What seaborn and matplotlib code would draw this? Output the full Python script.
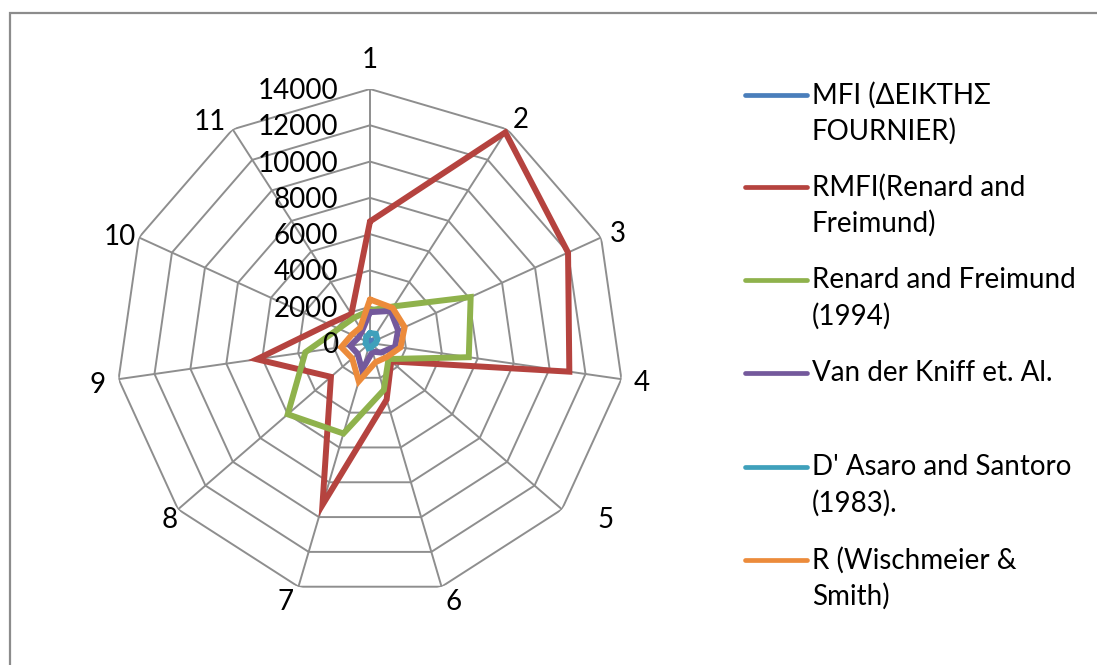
import numpy as np
import pandas as pd
import matplotlib
matplotlib.use("Agg")
import matplotlib.pyplot as plt
from matplotlib.lines import Line2D
from matplotlib.patches import Rectangle
import seaborn as sns

# Stations / months on the radar axes
categories = ["1", "2", "3", "4", "5", "6", "7", "8", "9", "10", "11"]

# Erosivity indices per axis
mfi = [130, 150, 120, 100, 70, 60, 90, 70, 80, 70, 100]
rmfi = [6700, 13800, 12000, 11100, 1550, 3250, 9300, 2850, 6300, 2500, 1900]
renard_1994 = [1800, 2400, 6100, 5500, 1350, 2700, 5200, 6000, 3600, 1900, 1650]
van_der_kniff = [1700, 2100, 1700, 1400, 800, 500, 1550, 900, 1100, 700, 800]
dasaro = [550, 600, 450, 300, 200, 250, 300, 200, 250, 250, 400]
r_wischmeier = [2400, 2300, 2100, 1700, 1200, 1100, 2200, 1300, 1600, 1100, 1000]

series_names = [
    "MFI (ΔΕΙΚΤΗΣ\nFOURNIER)",
    "RMFI(Renard and\nFreimund)",
    "Renard and Freimund\n(1994)",
    "Van der Kniff et. Al.",
    "D' Asaro and Santoro\n(1983).",
    "R (Wischmeier &\nSmith)",
]
radial_ticks = [0, 2000, 4000, 6000, 8000, 10000, 12000, 14000]

colors = ["#4A7EBB", "#B5433F", "#8FB24C", "#74599C", "#3FA0BB", "#EC8B3B"]
grid_color = "#8E8E8E"

# pixel nudges of the category labels away from the outer ring vertices
label_offsets = [(0, -29), (13, -9), (17, -3), (20, 4), (44, 11), (12, 15),
                 (-13, 15), (-8, 11), (-21, 6), (-19, 0), (-23, -7)]

sns.set_theme(style="white")
plt.rcParams["font.family"] = ["Lato", "Noto Sans", "DejaVu Sans"]

W, H = 1097, 665
fig = plt.figure(figsize=(W / 100, H / 100), dpi=100, facecolor="white")

# chart-area frame
fig.add_artist(Rectangle((10 / W, -0.05), 1.1, 1 - 13 / H + 0.05,
                         transform=fig.transFigure, fill=False,
                         edgecolor="#8C8C8C", lw=1.6, clip_on=False))

cx, cy, R = 370, 343, 254
ax = fig.add_axes([(cx - R) / W, (H - cy - R) / H, 2 * R / W, 2 * R / H],
                  projection="polar")
ax.set_theta_offset(np.pi / 2)
ax.set_theta_direction(-1)
ax.set_facecolor("none")
ax.grid(False)
ax.spines["polar"].set_visible(False)

n = len(categories)
theta = np.arange(n) * 2 * np.pi / n
theta_closed = np.append(theta, theta[0])

# polygonal web
for lvl in radial_ticks[1:]:
    ax.plot(theta_closed, [lvl] * (n + 1), color=grid_color, lw=1.4, zorder=1)
for t in theta:
    ax.plot([t, t], [0, radial_ticks[-1]], color=grid_color, lw=1.4, zorder=1)

rows = []
for name, vals in zip(series_names, [mfi, rmfi, renard_1994, van_der_kniff,
                                     dasaro, r_wischmeier]):
    closed = list(vals) + [vals[0]]
    for k, v in enumerate(closed):
        rows.append({"series": name, "angle": theta_closed[k], "value": v})
df = pd.DataFrame(rows)

sns.lineplot(data=df, x="angle", y="value", hue="series",
             hue_order=series_names, palette=colors, sort=False,
             estimator=None, linewidth=4.3, legend=False, ax=ax,
             solid_joinstyle="miter", zorder=3)

ax.set_ylim(0, radial_ticks[-1])
ax.set_xticks([])
ax.set_yticks([])
ax.set_xlabel("")
ax.set_ylabel("")

# radial value labels beside the first spoke
for lvl in radial_ticks:
    ax.annotate(f"{lvl}", xy=(0, lvl), xytext=(-32, -2),
                textcoords="offset pixels", ha="right", va="center",
                fontsize=20, color="black", annotation_clip=False)

# category labels around the web
for t, lab, (dx, dy) in zip(theta, categories, label_offsets):
    ax.annotate(lab, xy=(t, radial_ticks[-1]), xytext=(dx, -dy),
                textcoords="offset pixels", ha="center", va="center",
                fontsize=20, color="black", annotation_clip=False)

# legend
legend_rows = [95, 187, 280, 373, 467, 560]
for y0, name, col in zip(legend_rows, series_names, colors):
    fig.add_artist(Line2D([745 / W, 807 / W], [1 - y0 / H] * 2,
                          transform=fig.transFigure, color=col, lw=3.4,
                          solid_capstyle="round"))
    for i, line in enumerate(name.split("\n")):
        fig.text(812 / W, 1 - (y0 + 36 * i) / H, line, ha="left",
                 va="center", fontsize=20, color="black")

fig.savefig("out.png", dpi=100, facecolor="white")
